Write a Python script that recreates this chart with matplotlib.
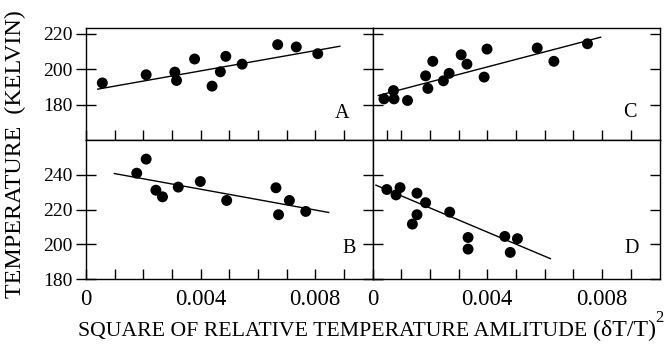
import matplotlib
matplotlib.use("Agg")
import matplotlib.pyplot as plt

plt.rcParams['font.family'] = ['Liberation Serif', 'DejaVu Serif']

# ---- data: square of relative temperature amplitude vs temperature (K) ----
a_x = [0.00057, 0.0021, 0.0031, 0.00316, 0.00379, 0.0044, 0.00469, 0.00488,
       0.00545, 0.00669, 0.00734, 0.00809]
a_y = [192.2, 196.8, 198.3, 193.6, 205.7, 190.4, 198.5, 207.2, 202.8, 213.8,
       212.5, 208.7]
a_fit_x = [0.00041, 0.00886]
a_fit_y = [188.7, 212.9]

c_x = [0.0004, 0.00073, 0.00075, 0.00122, 0.00185, 0.00193, 0.0021, 0.00247,
       0.00267, 0.00309, 0.00329, 0.00389, 0.00399, 0.00574, 0.00632, 0.00749]
c_y = [183.2, 187.9, 183.2, 182.3, 196.2, 189.1, 204.4, 193.4, 197.6, 208.1,
       202.8, 195.5, 211.3, 211.9, 204.4, 214.3]
c_fit_x = [0.0002, 0.00795]
c_fit_y = [185.1, 218.0]

b_x = [0.00177, 0.0021, 0.00244, 0.00267, 0.00322, 0.00399, 0.00491, 0.00663,
       0.00672, 0.0071, 0.00767]
b_y = [240.9, 249.0, 231.1, 227.3, 232.9, 236.1, 225.2, 232.5, 217.0, 225.2,
       218.9]
b_fit_x = [0.00099, 0.00847]
b_fit_y = [240.7, 218.3]

d_x = [0.0005, 0.00082, 0.00096, 0.00155, 0.00155, 0.00139, 0.00185, 0.00269,
       0.00333, 0.00333, 0.00461, 0.00505, 0.0048]
d_y = [231.5, 228.4, 232.6, 229.4, 217.0, 211.6, 223.9, 218.5, 203.9, 197.2,
       204.5, 203.2, 195.3]
d_fit_x = [0.00012, 0.0062]
d_fit_y = [234.0, 191.7]

top_yticks = [180, 200, 220]
bottom_yticks = [180, 200, 220, 240]
x_ticks = [0.0, 0.001, 0.002, 0.003, 0.004, 0.005, 0.006, 0.007, 0.008, 0.009]
x_ticklabels = ["0", "", "", "", "0.004", "", "", "", "0.008", ""]

W, H = 666, 346
fig = plt.figure(figsize=(W / 100, H / 100), dpi=100)

L, M, R = 86 / W, 372.5 / W, 659.5 / W
T, MID, B = 1 - 28 / H, 1 - 140 / H, 1 - 279 / H

axA = fig.add_axes([L, MID, M - L, T - MID])
axC = fig.add_axes([M, MID, R - M, T - MID])
axB = fig.add_axes([L, B, M - L, MID - B])
axD = fig.add_axes([M, B, R - M, MID - B])

panels = [
    (axA, a_x, a_y, a_fit_x, a_fit_y, "A", (0.895, 0.239)),
    (axC, c_x, c_y, c_fit_x, c_fit_y, "C", (0.896, 0.245)),
    (axB, b_x, b_y, b_fit_x, b_fit_y, "B", (0.920, 0.221)),
    (axD, d_x, d_y, d_fit_x, d_fit_y, "D", (0.903, 0.221)),
]

for ax, xs, ys, fx, fy, letter, pos in panels:
    ax.plot(fx, fy, color='black', lw=1.0, zorder=2)
    ax.scatter(xs, ys, s=62, color='black', edgecolors='none', zorder=3)
    ax.set_xlim(0, 0.010)
    ax.text(pos[0], pos[1], letter, transform=ax.transAxes, ha='center',
            va='center', fontsize=14.5)
    for sp in ax.spines.values():
        sp.set_linewidth(1.0)
    ax.tick_params(axis='x', which='both', direction='in', length=7,
                   width=1.0, top=False, bottom=True)

# y ranges
for ax in (axA, axC):
    ax.set_ylim(160, 223.2)
    ax.set_yticks(top_yticks)
for ax in (axB, axD):
    ax.set_ylim(180, 260)
    ax.set_yticks(bottom_yticks)

# x ticks
for ax in (axA, axB, axD):
    ax.set_xticks(x_ticks)
axC.set_xticks([0.0005] + x_ticks[1:])

axA.set_xticklabels([])
axC.set_xticklabels([])
axB.set_xticklabels(x_ticklabels)
axD.set_xticklabels(x_ticklabels)
for ax in (axB, axD):
    ax.tick_params(axis='x', labelsize=16.5, pad=7)

# y ticks: left panels cross their spines, right panels point inward
for ax in (axA, axB):
    ax.tick_params(axis='y', direction='inout', length=15, width=1.0,
                   left=True, right=True, labelleft=True, labelright=False,
                   labelsize=14, pad=2)
for ax in (axC, axD):
    ax.tick_params(axis='y', direction='in', length=7.5, width=1.0,
                   left=True, right=True, labelleft=False, labelright=False)

# the 220 label of the upper panels carries no tick mark
for ax in (axA, axC):
    for t in ax.yaxis.get_major_ticks():
        if abs(t.get_loc() - 220) < 1e-6:
            t.tick1line.set_visible(False)
            t.tick2line.set_visible(False)

# axis titles
fig.text(15 / W, 1 - 154 / H, "TEMPERATURE  (KELVIN)", rotation=90,
         ha='center', va='center', fontsize=17.3)

fig.canvas.draw()
renderer = fig.canvas.get_renderer()
base_y = 1 - 336 / H
t1 = fig.text(78 / W, base_y, "SQUARE OF RELATIVE TEMPERATURE AMLITUDE ",
              ha='left', va='baseline', fontsize=15.7)
bb = t1.get_window_extent(renderer)
t2 = fig.text(bb.x1 / W, base_y, "(δT/T)", ha='left', va='baseline',
              fontsize=17.3)
bb2 = t2.get_window_extent(renderer)
fig.text(bb2.x1 / W, base_y + 14 / H, "2", ha='left',
         va='baseline', fontsize=12)

fig.savefig("out.png", dpi=100)
